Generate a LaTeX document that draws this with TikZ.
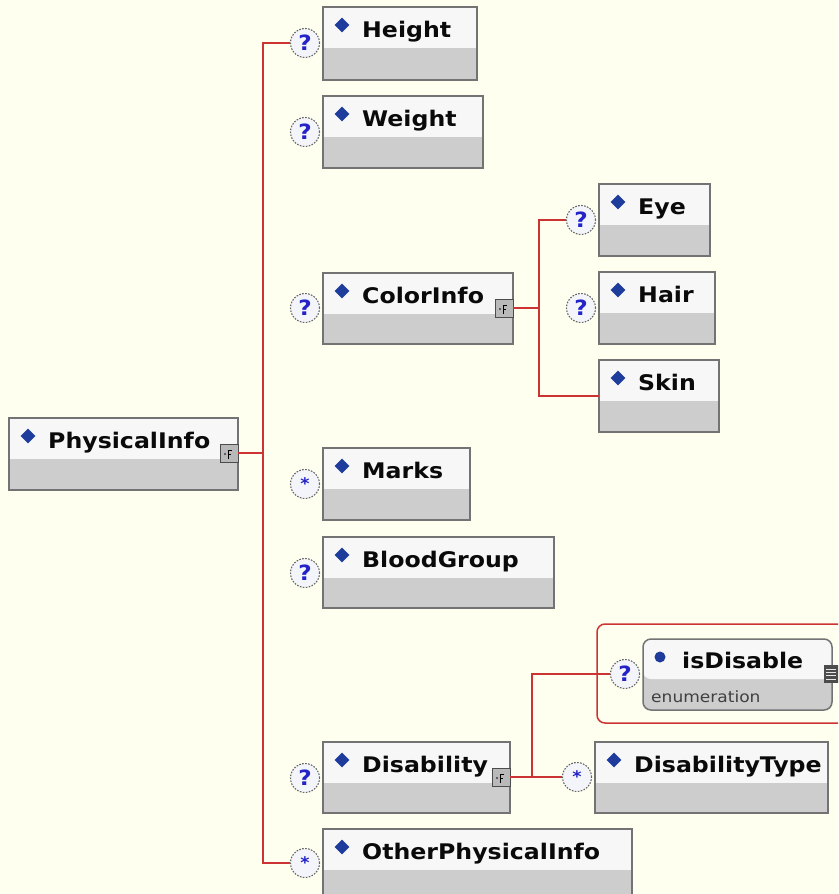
\documentclass[tikz,border=0pt]{standalone}
\usepackage{fontspec}
\newfontfamily\boxfont[FakeStretch=1.1]{DejaVu Sans}
\usetikzlibrary{calc,shapes.geometric}
\definecolor{bg}{HTML}{FFFFF0}
\definecolor{connred}{HTML}{CC3333}
\definecolor{boxborder}{HTML}{737373}
\definecolor{headfill}{HTML}{F7F7F7}
\definecolor{lowfill}{HTML}{CDCDCD}
\definecolor{diamblue}{HTML}{1E3C9C}
\definecolor{qblue}{HTML}{2323C8}
\definecolor{circfill}{HTML}{F3F5FA}
\definecolor{txt}{HTML}{0A0A0A}

\tikzset{
  elembox/.style={draw=boxborder, line width=1.8pt, fill=lowfill, rectangle,
    anchor=north west, inner sep=0pt, outer sep=0pt,
    path picture={\fill[headfill] (path picture bounding box.north west)
      rectangle ([yshift=-41pt]path picture bounding box.north east);}},
  attrbox/.style={draw=boxborder, line width=1.5pt, fill=lowfill, rectangle,
    rounded corners=8pt, anchor=north west, inner sep=0pt, outer sep=0pt,
    path picture={\fill[headfill] (path picture bounding box.north west)
      rectangle ([yshift=-40pt]path picture bounding box.north east);}},
  diam/.style={diamond, fill=diamblue, minimum width=15pt, minimum height=15pt, inner sep=0pt},
  bluedot/.style={circle, fill=diamblue, minimum size=11pt, inner sep=0pt},
  lbl/.style={anchor=base west, inner sep=0pt, text=txt,
    font=\boxfont\bfseries\fontsize{21.5}{21.5}\selectfont},
  sublbl/.style={anchor=base west, inner sep=0pt, text=black!75,
    font=\boxfont\fontsize{15.5}{15.5}\selectfont},
  occ/.style={circle, draw=black!60, dash pattern=on 1.6pt off 1.4pt, line width=1.1pt,
    fill=circfill, minimum width=29pt, minimum height=27pt, inner sep=0pt, text=qblue,
    font=\boxfont\bfseries\fontsize{21}{21}\selectfont},
  seqicon/.style={rectangle, draw=black!70, fill=gray!55, minimum size=18pt,
    inner sep=0pt, line width=0.9pt,
    path picture={\draw[black, line width=1pt]
      ([xshift=-1pt,yshift=-6pt]path picture bounding box.center) -- ++(0,9pt) -- ++(4pt,0)
      ([xshift=-1pt,yshift=-1pt]path picture bounding box.center) -- ++(3pt,0);
      \fill[black] ([xshift=-4pt,yshift=-1pt]path picture bounding box.center) circle (0.9pt);}},
  listicon/.style={rectangle, fill=black!70, minimum width=15pt, minimum height=18pt,
    inner sep=0pt,
    path picture={\foreach \k in {-5,-1.7,1.7,5}{\draw[white!80!gray, line width=0.8pt]
      ([xshift=-5pt,yshift=\k pt]path picture bounding box.center) -- ++(10pt,0);}}},
  conn/.style={draw=connred, line width=1.5pt},
  grp/.style={draw=connred, line width=1.5pt, rounded corners=8pt, rectangle,
    anchor=north west, inner sep=0pt, outer sep=0pt}
}

% name, L, T, R, B, label
\newcommand\elemnode[6]{%
  \node[elembox, minimum width={#4-#2}, minimum height={#5-#3}] (#1) at (#2,#3) {};
  \node[diam] (#1D) at ($(#2,#3)+(19,18)$) {};
  \node[lbl] (#1T) at ($(#2,#3)+(39,30)$) {#6};
}

\begin{document}
\begin{tikzpicture}[x=1pt,y=-1pt]
\useasboundingbox (0,0) rectangle (838,894);
\fill[bg] (0,0) rectangle (838,894);
\begin{scope}
\clip (0,0) rectangle (838,894);

% group around attribute
\node[grp, minimum width=280pt, minimum height=99pt] (isdisG) at (597,624) {};

% elements
\elemnode{phys}{9}{418}{238}{490}{PhysicalInfo}
\elemnode{height}{323}{7}{477}{80}{Height}
\elemnode{weight}{323}{96}{483}{168}{Weight}
\elemnode{color}{323}{273}{513}{344}{ColorInfo}
\elemnode{eye}{599}{184}{710}{256}{Eye}
\elemnode{hair}{599}{272}{715}{344}{Hair}
\elemnode{skin}{599}{360}{719}{432}{Skin}
\elemnode{marks}{323}{448}{470}{520}{Marks}
\elemnode{blood}{323}{537}{554}{608}{BloodGroup}
\elemnode{dis}{323}{742}{510}{813}{Disability}
\elemnode{distype}{595}{742}{828}{813}{DisabilityType}
\elemnode{other}{323}{829}{632}{910}{OtherPhysicalInfo}

% attribute
\node[attrbox, minimum width=189pt, minimum height=71pt] (isdis) at (643,639) {};
\node[bluedot] (isdisD) at (660,657) {};
\node[lbl] (isdisT) at (682,668) {isDisable};
\node[sublbl] (isdisS) at (651,702) {enumeration};
\node[listicon] (isdisI) at (831,674) {};

% content-model icons
\node[seqicon] (physI) at (229,453) {};
\node[seqicon] (colorI) at (504,308) {};
\node[seqicon] (disI) at (501,777) {};

% occurrence markers
\newcommand\starmark{\raisebox{-4pt}{\fontsize{16}{16}\selectfont *}}
\node[occ] (heightO) at (305,43) {?};
\node[occ] (weightO) at (305,132) {?};
\node[occ] (colorO) at (305,308) {?};
\node[occ] (eyeO) at (581,220) {?};
\node[occ] (hairO) at (581,308) {?};
\node[occ] (marksO) at (305,484) {\starmark};
\node[occ] (bloodO) at (305,573) {?};
\node[occ] (disO) at (305,778) {?};
\node[occ] (distypeO) at (577,777) {\starmark};
\node[occ] (otherO) at (305,863) {\starmark};
\node[occ] (isdisO) at (625,674) {?};

% connectors
\coordinate (trunkB) at (263,863);
\draw[conn] (heightO.west) -| (trunkB) -- (otherO.west);
\draw[conn] (physI.east) -- (physI.east -| trunkB);

\coordinate (cjB) at (539,396);
\draw[conn] (eyeO.west) -| (cjB) -- (cjB -| skin.west);
\draw[conn] (colorI.east) -- (colorI.east -| cjB);

\coordinate (dj) at (532,777);
\draw[conn] (disI.east) -- (disI.east -| distypeO.west);
\draw[conn] (dj) |- (isdisO.west);
\end{scope}
\end{tikzpicture}
\end{document}
